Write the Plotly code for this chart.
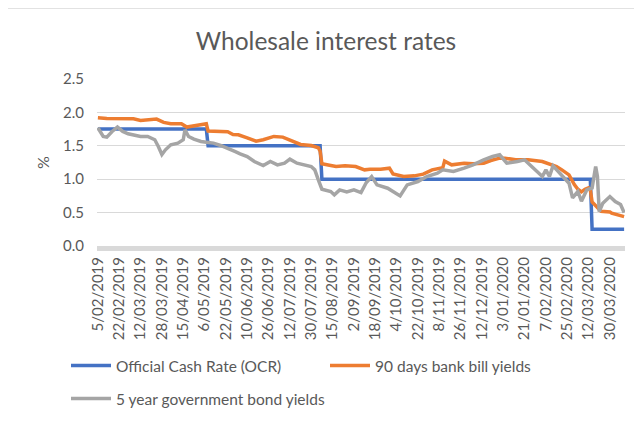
import pandas as pd
import plotly.graph_objects as go

# ---------------- data ----------------
TITLE = "Wholesale interest rates"
Y_TITLE = "%"

START, END = "2019-02-05", "2020-04-09"
HOLIDAYS = ["2019-02-06", "2019-04-19", "2019-04-22", "2019-04-25", "2019-06-03",
            "2019-10-28", "2019-12-25", "2019-12-26", "2020-01-01", "2020-01-02",
            "2020-02-06"]

TICK_LABELS = ["5/02/2019", "22/02/2019", "12/03/2019", "28/03/2019", "15/04/2019",
               "6/05/2019", "22/05/2019", "10/06/2019", "26/06/2019", "12/07/2019",
               "30/07/2019", "15/08/2019", "2/09/2019", "18/09/2019", "4/10/2019",
               "22/10/2019", "8/11/2019", "26/11/2019", "12/12/2019", "3/01/2020",
               "21/01/2020", "7/02/2020", "25/02/2020", "12/03/2020", "30/03/2020"]

OCR_NAME = "Official Cash Rate (OCR)"
OCR_DATES = ["5/02/2019", "7/05/2019", "8/05/2019", "6/08/2019", "7/08/2019",
             "13/03/2020", "16/03/2020", "9/04/2020"]
OCR_VALUES = [1.75, 1.75, 1.50, 1.50, 1.00, 1.00, 0.25, 0.25]

BILL_NAME = "90 days bank bill yields"
BILL_DATES = ["5/02/2019", "13/02/2019", "6/03/2019", "12/03/2019", "25/03/2019",
              "29/03/2019", "4/04/2019", "12/04/2019", "17/04/2019", "30/04/2019",
              "7/05/2019", "8/05/2019", "15/05/2019", "23/05/2019", "28/05/2019",
              "31/05/2019", "10/06/2019", "17/06/2019", "21/06/2019", "26/06/2019",
              "1/07/2019", "8/07/2019", "12/07/2019", "22/07/2019", "30/07/2019",
              "5/08/2019", "6/08/2019", "7/08/2019", "14/08/2019", "19/08/2019",
              "26/08/2019", "3/09/2019", "10/09/2019", "13/09/2019", "23/09/2019",
              "30/09/2019", "2/10/2019", "10/10/2019", "18/10/2019", "25/10/2019",
              "4/11/2019", "12/11/2019", "13/11/2019", "19/11/2019", "28/11/2019",
              "5/12/2019", "13/12/2019", "19/12/2019", "30/12/2019", "6/01/2020",
              "14/01/2020", "23/01/2020", "4/02/2020", "12/02/2020", "17/02/2020",
              "20/02/2020", "26/02/2020", "2/03/2020", "4/03/2020", "6/03/2020",
              "10/03/2020", "12/03/2020", "13/03/2020", "16/03/2020", "18/03/2020",
              "23/03/2020", "30/03/2020", "31/03/2020", "9/04/2020"]
BILL_VALUES = [1.92, 1.91, 1.905, 1.88, 1.90,
               1.85, 1.83, 1.83, 1.78, 1.81,
               1.83, 1.72, 1.71, 1.71, 1.67,
               1.665, 1.62, 1.57, 1.59, 1.615,
               1.64, 1.63, 1.59, 1.52, 1.505,
               1.47, 1.42, 1.23, 1.205, 1.19,
               1.20, 1.19, 1.14, 1.15, 1.15,
               1.165, 1.08, 1.04, 1.05, 1.075,
               1.14, 1.17, 1.27, 1.215, 1.24,
               1.23, 1.24, 1.28, 1.315, 1.315,
               1.29, 1.29, 1.265, 1.215, 1.19,
               1.14, 1.065, 0.92, 0.85, 0.81,
               0.85, 0.87, 0.84, 0.66, 0.60,
               0.52, 0.51, 0.49, 0.44]

BOND_NAME = "5 year government bond yields"
BOND_DATES = ["5/02/2019", "11/02/2019", "13/02/2019", "18/02/2019", "21/02/2019",
              "26/02/2019", "1/03/2019", "6/03/2019", "12/03/2019", "18/03/2019",
              "22/03/2019", "26/03/2019", "28/03/2019", "1/04/2019", "4/04/2019",
              "10/04/2019", "15/04/2019", "16/04/2019", "18/04/2019", "26/04/2019",
              "2/05/2019", "8/05/2019", "13/05/2019", "17/05/2019", "23/05/2019",
              "29/05/2019", "4/06/2019", "10/06/2019", "14/06/2019", "21/06/2019",
              "27/06/2019", "3/07/2019", "9/07/2019", "12/07/2019", "18/07/2019",
              "26/07/2019", "30/07/2019", "1/08/2019", "2/08/2019", "5/08/2019",
              "7/08/2019", "14/08/2019", "16/08/2019", "21/08/2019", "27/08/2019",
              "2/09/2019", "6/09/2019", "11/09/2019", "16/09/2019", "19/09/2019",
              "27/09/2019", "4/10/2019", "8/10/2019", "14/10/2019", "22/10/2019",
              "30/10/2019", "7/11/2019", "12/11/2019", "20/11/2019", "28/11/2019",
              "5/12/2019", "13/12/2019", "20/12/2019", "30/12/2019", "7/01/2020",
              "15/01/2020", "21/01/2020", "27/01/2020", "31/01/2020", "4/02/2020",
              "7/02/2020", "11/02/2020", "13/02/2020", "18/02/2020", "24/02/2020",
              "26/02/2020", "28/02/2020", "4/03/2020", "6/03/2020", "11/03/2020",
              "16/03/2020", "18/03/2020", "19/03/2020", "20/03/2020", "24/03/2020",
              "30/03/2020", "2/04/2020", "7/04/2020", "9/04/2020"]
BOND_VALUES = [1.77, 1.64, 1.63, 1.715, 1.78,
               1.715, 1.68, 1.665, 1.64, 1.64,
               1.59, 1.49, 1.37, 1.44, 1.515,
               1.54, 1.59, 1.74, 1.64, 1.60,
               1.565, 1.55, 1.54, 1.505, 1.465,
               1.415, 1.38, 1.34, 1.265, 1.205,
               1.265, 1.215, 1.24, 1.30, 1.24,
               1.205, 1.19, 1.14, 1.05, 0.99,
               0.85, 0.815, 0.765, 0.84, 0.81,
               0.84, 0.80, 0.95, 1.04, 0.915,
               0.865, 0.79, 0.75, 0.915, 0.965,
               1.04, 1.09, 1.14, 1.115, 1.165,
               1.215, 1.29, 1.34, 1.365, 1.24,
               1.265, 1.29, 1.19, 1.09, 1.04,
               1.14, 1.04, 1.20, 1.115, 0.99,
               0.94, 0.72, 0.815, 0.67, 0.84,
               0.87, 1.19, 1.04, 0.515, 0.64,
               0.74, 0.665, 0.62, 0.50]

# ---------------- category axis: trading days ----------------
days = pd.bdate_range(START, END)
days = days[~days.isin(pd.to_datetime(HOLIDAYS))]
CATEGORIES = [f"{d.day}/{d.month:02d}/{d.year}" for d in days]

FONT = "Lato"
TXT = "#595959"
BLUE, ORANGE, GREY = "#4472C4", "#ED7D31", "#A5A5A5"

fig = go.Figure()
fig.add_trace(go.Scatter(x=OCR_DATES, y=OCR_VALUES, name=OCR_NAME, mode="lines",
                         line=dict(color=BLUE, width=3.5), legend="legend"))
fig.add_trace(go.Scatter(x=BILL_DATES, y=BILL_VALUES, name=BILL_NAME, mode="lines",
                         line=dict(color=ORANGE, width=3.5), legend="legend"))
fig.add_trace(go.Scatter(x=BOND_DATES, y=BOND_VALUES, name=BOND_NAME, mode="lines",
                         line=dict(color=GREY, width=3.5), legend="legend2"))

# page body has an 8px margin: work in screen pixels, convert to figure pixels
OFF = 8
W, H = 642 - OFF, 421 - OFF
PLOT_L, PLOT_R, PLOT_T, PLOT_B = 97, 625, 79, 246      # screen pixels
L, R = PLOT_L - OFF, W - (PLOT_R - OFF)
T, B = PLOT_T - OFF, H - (PLOT_B - OFF)
PW, PH = W - L - R, H - T - B


def px_x(p):
    return (p - OFF - L) / PW


def px_y(p):
    return (H - B - (p - OFF)) / PH


fig.update_layout(
    width=W, height=H,
    margin=dict(l=L, r=R, t=T, b=B, autoexpand=False),
    paper_bgcolor="white", plot_bgcolor="white",
    font=dict(family=FONT, color=TXT, size=15),
    title=dict(text=TITLE, x=px_x(326), xanchor="center", xref="paper",
               y=1 - (41 - OFF) / H, yanchor="middle", yref="container",
               font=dict(size=24.5, color=TXT, family=FONT)),
    xaxis=dict(type="category", categoryorder="array", categoryarray=CATEGORIES,
               range=[-0.5, len(CATEGORIES) - 0.5],
               tickmode="array", tickvals=TICK_LABELS, ticktext=TICK_LABELS,
               tickangle=-90, showgrid=False, showline=True, linecolor="#D9D9D9",
               linewidth=5, ticks="", tickfont=dict(size=15, color=TXT),
               zeroline=False),
    yaxis=dict(range=[0, 2.5], tickmode="array", tickvals=[0, 0.5, 1.0, 1.5, 2.0, 2.5],
               tickformat=".1f", showgrid=True, gridcolor="#D9D9D9", gridwidth=1,
               zeroline=False, showline=False, ticks="",
               tickfont=dict(size=15, color=TXT), ticklabelstandoff=12,
               title=dict(text=Y_TITLE, font=dict(size=16, color=TXT), standoff=9)),
    legend=dict(orientation="h", x=px_x(66), xanchor="left", y=px_y(349), yanchor="top",
                font=dict(size=15.5, color=TXT), entrywidth=204, entrywidthmode="pixels",
                bgcolor="rgba(0,0,0,0)", itemwidth=40),
    legend2=dict(orientation="h", x=px_x(66), xanchor="left", y=px_y(382), yanchor="top",
                 font=dict(size=15.5, color=TXT), bgcolor="rgba(0,0,0,0)", itemwidth=40),
    shapes=[dict(type="rect", xref="paper", yref="paper",
                 x0=px_x(7), x1=px_x(660), y0=px_y(440), y1=px_y(8),
                 line=dict(color="#D9D9D9", width=1.5), fillcolor="rgba(0,0,0,0)",
                 layer="below")],
)

fig.write_html("out.html")
